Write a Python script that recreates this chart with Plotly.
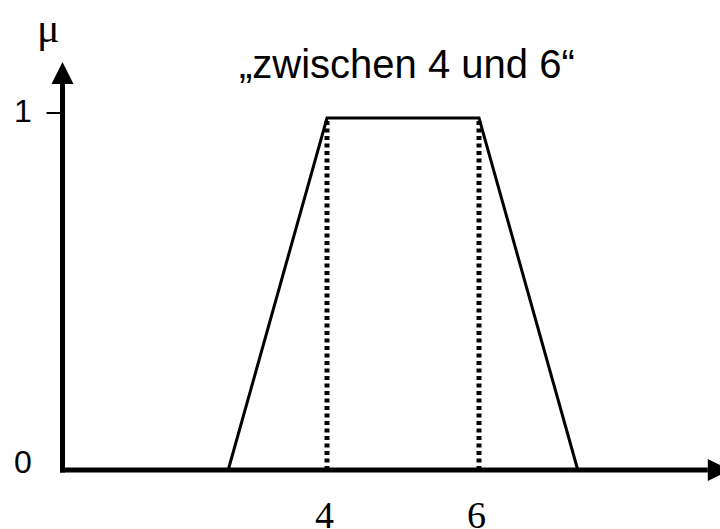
import plotly.graph_objects as go

# Trapezoidal membership function "zwischen 4 und 6"
x_points = [2.7, 4, 6, 7.3]
mu_points = [0, 1, 1, 0]
core_x = [4, 6]
x_tick_labels = ["4", "6"]
y_tick_values = [0, 1]
y_tick_labels = ["0", "1"]
title_text = "\u201ezwischen 4 und 6\u201c"

# coordinate frame (whole figure is the plotting area)
X_RANGE = [4 - 327 / 76, 4 + 393 / 76]
Y_RANGE = [-59 / 352, 470 / 352]
PX_X = (X_RANGE[1] - X_RANGE[0]) / 720   # data units per pixel, x
PX_Y = (Y_RANGE[1] - Y_RANGE[0]) / 529   # data units per pixel, y
AXIS_X0 = 0.52          # where the mu axis stands
Y_TOP = 1.159           # tip of the mu arrow
X_RIGHT = 9.3           # tip of the x arrow (runs off the page)
HEAD_LEN_PX = 22
HEAD_HALF_PX = 11

SANS = "Arial, Liberation Sans, sans-serif"
SERIF = "Times New Roman, Liberation Serif, serif"

fig = go.Figure()

# trapezoid
fig.add_trace(go.Scatter(
    x=x_points, y=mu_points, mode="lines",
    line=dict(color="black", width=3), hoverinfo="skip", showlegend=False,
))

# dotted verticals at the core boundaries
for cx in core_x:
    fig.add_trace(go.Scatter(
        x=[cx, cx], y=[0, 1], mode="lines",
        line=dict(color="black", width=5, dash="4px,3.5px"),
        hoverinfo="skip", showlegend=False,
    ))

shapes = []
# x axis with arrow head
x_head_base = X_RIGHT - HEAD_LEN_PX * PX_X
shapes.append(dict(type="line", xref="x", yref="y",
                   x0=AXIS_X0 - 2.5 * PX_X, y0=0, x1=x_head_base, y1=0,
                   line=dict(color="black", width=5)))
shapes.append(dict(type="path", xref="x", yref="y",
                   path=(f"M {x_head_base} {HEAD_HALF_PX * PX_Y} "
                         f"L {X_RIGHT} 0 "
                         f"L {x_head_base} {-HEAD_HALF_PX * PX_Y} Z"),
                   fillcolor="black", line=dict(color="black", width=0)))
# mu axis with arrow head
y_head_base = Y_TOP - HEAD_LEN_PX * PX_Y
shapes.append(dict(type="line", xref="x", yref="y",
                   x0=AXIS_X0, y0=-2.5 * PX_Y, x1=AXIS_X0, y1=y_head_base,
                   line=dict(color="black", width=5)))
shapes.append(dict(type="path", xref="x", yref="y",
                   path=(f"M {AXIS_X0 - HEAD_HALF_PX * PX_X} {y_head_base} "
                         f"L {AXIS_X0} {Y_TOP} "
                         f"L {AXIS_X0 + HEAD_HALF_PX * PX_X} {y_head_base} Z"),
                   fillcolor="black", line=dict(color="black", width=0)))
# tick mark at mu = 1
shapes.append(dict(type="line", xref="x", yref="y",
                   x0=AXIS_X0 - 16 * PX_X, y0=y_tick_values[1] + 5 * PX_Y,
                   x1=AXIS_X0 - 2 * PX_X, y1=y_tick_values[1] + 5 * PX_Y,
                   line=dict(color="black", width=2)))

annotations = []
# y tick labels
for val, lab in zip(y_tick_values, y_tick_labels):
    annotations.append(dict(x=AXIS_X0, y=val, xref="x", yref="y", text=lab,
                            showarrow=False, xanchor="right", yanchor="middle",
                            xshift=-29, yshift=8 if val == 0 else 7,
                            font=dict(family=SANS, size=32, color="black")))
# x tick labels
for val, lab in zip(core_x, x_tick_labels):
    annotations.append(dict(x=val, y=0, xref="x", yref="y", text=lab,
                            showarrow=False, xanchor="center", yanchor="top",
                            yshift=-22, xshift=-3,
                            font=dict(family=SERIF, size=38, color="black")))
# axis name
annotations.append(dict(x=AXIS_X0, y=Y_TOP, xref="x", yref="y", text="\u03bc",
                        showarrow=False, xanchor="center", yanchor="bottom",
                        xshift=-14, yshift=9,
                        font=dict(family=SERIF, size=42, color="black")))
# caption
annotations.append(dict(x=(core_x[0] + core_x[1]) / 2, y=Y_TOP, xref="x", yref="y",
                        text=title_text, showarrow=False,
                        xanchor="center", yanchor="bottom", xshift=4, yshift=-26,
                        font=dict(family=SANS, size=40, color="black")))

fig.update_layout(
    width=720, height=529,
    margin=dict(l=0, r=0, t=0, b=0),
    paper_bgcolor="white", plot_bgcolor="white",
    xaxis=dict(range=X_RANGE, visible=False, fixedrange=True),
    yaxis=dict(range=Y_RANGE, visible=False, fixedrange=True),
    shapes=shapes, annotations=annotations,
    showlegend=False,
)

fig.write_html("out.html")
